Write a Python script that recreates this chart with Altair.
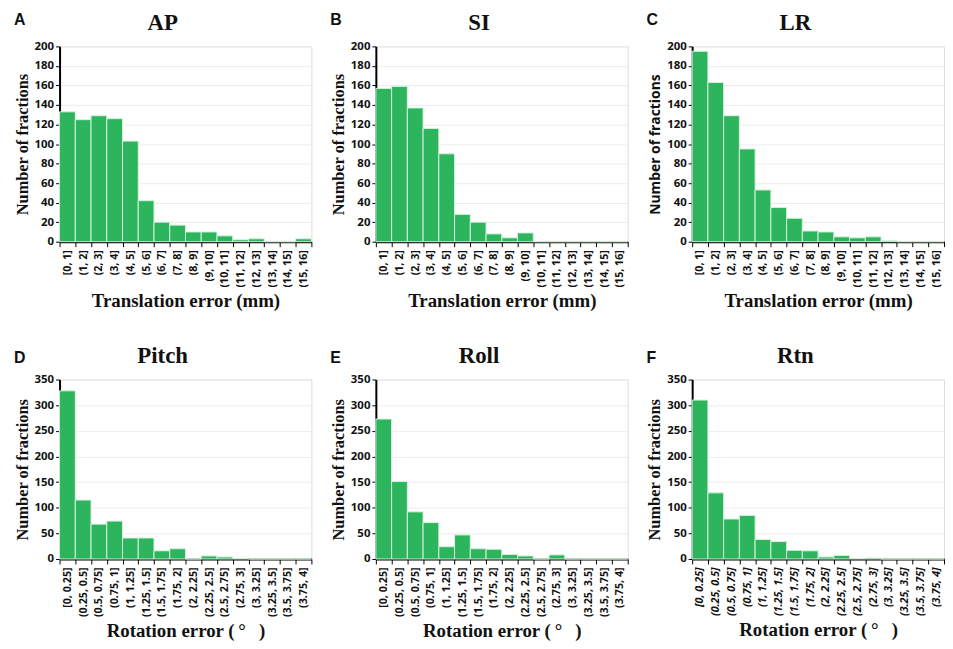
import altair as alt
import pandas as pd

trans_bins = ["[0, 1]", "(1, 2]", "(2, 3]", "(3, 4]", "(4, 5]", "(5, 6]", "(6, 7]", "(7, 8]",
              "(8, 9]", "(9, 10]", "(10, 11]", "(11, 12]", "(12, 13]", "(13, 14]", "(14, 15]", "(15, 16]"]
rot_bins = ["[0, 0.25]", "(0.25, 0.5]", "(0.5, 0.75]", "(0.75, 1]", "(1, 1.25]", "(1.25, 1.5]",
            "(1.5, 1.75]", "(1.75, 2]", "(2, 2.25]", "(2.25, 2.5]", "(2.5, 2.75]", "(2.75, 3]",
            "(3, 3.25]", "(3.25, 3.5]", "(3.5, 3.75]", "(3.75, 4]"]

ap_counts = [133, 125, 129, 126, 103, 42, 20, 17, 10, 10, 6, 2, 3, 0, 0, 3]
si_counts = [157, 159, 137, 116, 90, 28, 20, 8, 4, 9, 0, 0, 0, 0, 0, 0]
lr_counts = [195, 163, 129, 95, 53, 35, 24, 11, 10, 5, 4, 5, 1, 0, 0, 0]
pitch_counts = [328, 115, 68, 74, 41, 41, 16, 20, 0, 6, 4, 1, 0, 0, 0, 0]
roll_counts = [273, 151, 92, 71, 24, 47, 20, 19, 9, 6, 0, 8, 0, 0, 0, 0]
rtn_counts = [310, 129, 78, 85, 38, 34, 17, 16, 4, 7, 1, 2, 0, 0, 0, 0]

GREEN = "#2DB55D"
SERIF = "Liberation Serif"
SANS = "Open Sans"

W = 254
H_TOP = 197
H_BOT = 181


def panel(letter, title, bins, counts, ymax, ystep, xtitle, height,
          ytitle_font=SERIF, ytitle_size=16.5, label_style="normal", letter_y=-22):
    df = pd.DataFrame({"bin": bins, "count": counts})
    bars = alt.Chart(df).mark_bar(color=GREEN, stroke="#d8f0df", strokeWidth=1).encode(
        x=alt.X("bin:N", sort=bins,
                scale=alt.Scale(paddingInner=0, paddingOuter=0),
                axis=alt.Axis(title=xtitle, labelAngle=-90, tickBand="extent",
                              labelFont=SANS, labelFontSize=10.8, labelFontWeight="bold",
                              labelFontStyle=label_style, labelColor="#111",
                              labelPadding=3, tickSize=5, tickColor="#000",
                              domainColor="#000", domainWidth=2,
                              titleFont=SERIF, titleFontSize=19, titleFontWeight="bold",
                              titleColor="#111", titlePadding=5, labelOverlap=False)),
        y=alt.Y("count:Q", scale=alt.Scale(domain=[0, ymax], nice=False),
                axis=alt.Axis(title="Number of fractions", values=list(range(0, ymax + 1, ystep)),
                              grid=True, gridColor="#ECECEC", gridWidth=1,
                              labelFont=SANS, labelFontSize=11.5, labelFontWeight="bold",
                              labelColor="#111", labelPadding=2, tickSize=4, tickColor="#000",
                              domainColor="#000", domainWidth=2,
                              titleFont=ytitle_font, titleFontSize=ytitle_size,
                              titleFontWeight="bold", titleColor="#111", titlePadding=4)),
    )
    tdf = pd.DataFrame({"t": [title]})
    title_mark = alt.Chart(tdf).mark_text(font=SERIF, fontSize=23, fontWeight="bold",
                                          color="#111", align="center",
                                          baseline="alphabetic").encode(
        text="t:N", x=alt.value(104), y=alt.value(-17))
    ldf = pd.DataFrame({"t": [letter]})
    letter_mark = alt.Chart(ldf).mark_text(font="Liberation Sans", fontSize=16, fontWeight="bold",
                                           color="#111", align="left",
                                           baseline="alphabetic").encode(
        text="t:N", x=alt.value(-46), y=alt.value(letter_y))
    return alt.layer(bars, title_mark, letter_mark).properties(width=W, height=height)


rot_title = "Rotation error (\u2009°\u2002\u2009)"

charts = [
    panel("A", "AP", trans_bins, ap_counts, 200, 20, "Translation error (mm)", H_TOP),
    panel("B", "SI", trans_bins, si_counts, 200, 20, "Translation error (mm)", H_TOP),
    panel("C", "LR", trans_bins, lr_counts, 200, 20, "Translation error (mm)", H_TOP,
          ytitle_font=SANS, ytitle_size=14),
    panel("D", "Pitch", rot_bins, pitch_counts, 350, 50, rot_title, H_BOT, letter_y=-17),
    panel("E", "Roll", rot_bins, roll_counts, 350, 50, rot_title, H_BOT, letter_y=-17),
    panel("F", "Rtn", rot_bins, rtn_counts, 350, 50, rot_title, H_BOT,
          label_style="italic", letter_y=-17),
]

chart = alt.concat(*charts, columns=3, spacing={"row": 139, "column": 65}, bounds="flush").properties(
    padding={"left": 5, "top": 0, "right": 0, "bottom": 0}
).configure_view(stroke=None).configure(background="white")

chart.save("out.html", embed_options={"renderer": "svg", "actions": False})
